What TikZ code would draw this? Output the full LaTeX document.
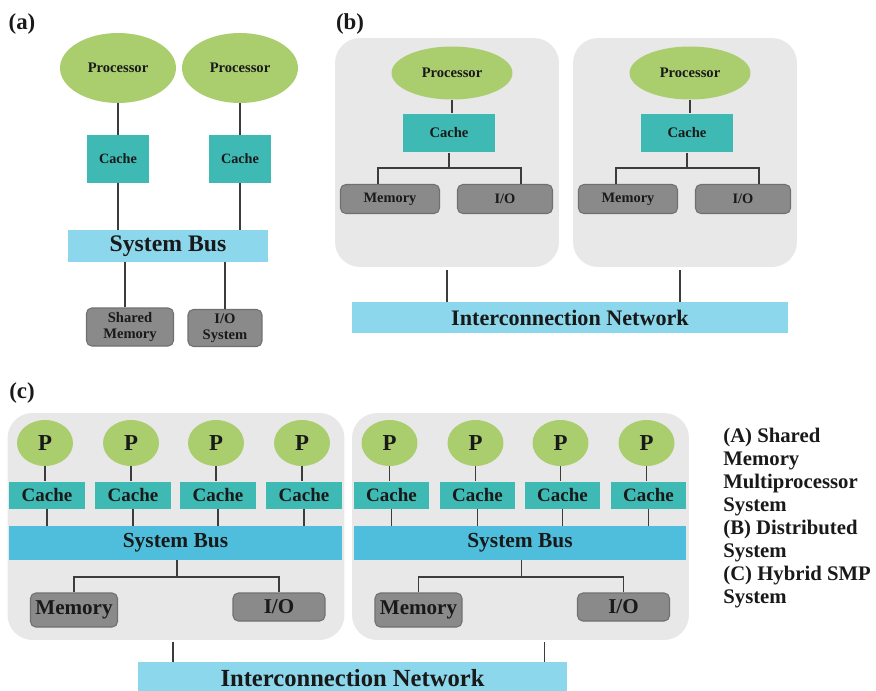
\documentclass[tikz,border=0pt]{standalone}
\usepackage{fontspec}
\usetikzlibrary{shapes.geometric}
\setmainfont{Liberation Serif}
\definecolor{ProcGreen}{RGB}{170,205,110}
\definecolor{CacheTeal}{RGB}{62,185,180}
\definecolor{BusBlue}{RGB}{78,190,220}
\definecolor{NetBlue}{RGB}{140,215,235}
\definecolor{DevGray}{RGB}{138,138,138}
\definecolor{DevEdge}{RGB}{112,112,112}
\definecolor{NodeGray}{RGB}{232,232,232}
\definecolor{WireGray}{RGB}{60,60,60}
\definecolor{TextDark}{RGB}{25,25,25}

\tikzset{
  proc/.style={ellipse, fill=ProcGreen, inner sep=0pt, text=TextDark},
  cachebox/.style={rectangle, fill=CacheTeal, inner sep=0pt, text=TextDark},
  busbar/.style={rectangle, inner sep=0pt, text=TextDark},
  devbox/.style={rectangle, rounded corners=3pt, fill=DevGray, draw=DevEdge, line width=0.6pt, inner sep=0pt, align=center, text=TextDark},
  nodebox/.style={rectangle, rounded corners=0.5cm, fill=NodeGray, inner sep=0pt},
  wire/.style={WireGray, line width=0.9pt},
  panel/.style={font=\bfseries\fontsize{13}{15}\selectfont, text=TextDark, inner sep=0pt},
}

\begin{document}
\begin{tikzpicture}[x=0.02cm, y=-0.02cm]

\useasboundingbox (0,0) rectangle (876,690);

% ============================================================
% PANEL (a): shared memory multiprocessor
% ============================================================

\node[panel] (labA) at (22,24) {(a)};

% Processors and caches
\foreach \i/\x in {1/118,2/240}{%
  \node[proc, minimum width=2.32cm, minimum height=1.4cm, font=\bfseries\fontsize{8.3}{9}\selectfont] (procA\i) at (\x,68) {Processor};
  \node[cachebox, minimum width=1.24cm, minimum height=0.96cm, font=\bfseries\fontsize{8.1}{9}\selectfont] (cacheA\i) at (\x,159) {Cache};
  \draw[wire] (procA\i) -- (cacheA\i);
}

% System bus
\node[busbar, fill=NetBlue, minimum width=4.0cm, minimum height=0.64cm, font=\bfseries\fontsize{13.5}{15}\selectfont] (busA) at (168,246) {System Bus};
\foreach \i in {1,2}{%
  \draw[wire] (cacheA\i.south) -- (cacheA\i.south |- busA.north);
}

% Shared memory and I/O
\node[devbox, minimum width=1.74cm, minimum height=0.76cm, font=\bfseries\fontsize{8.3}{9.4}\selectfont] (memA) at (130,327) {Shared\\Memory};
\node[devbox, minimum width=1.48cm, minimum height=0.74cm, font=\bfseries\fontsize{8.3}{9.4}\selectfont] (ioA) at (225,328) {I/O\\System};
\draw[wire] ([xshift=-0.1cm]memA.north) -- ([xshift=-0.1cm]memA.north |- busA.south);
\draw[wire] (ioA.north) -- (ioA.north |- busA.south);

% ============================================================
% PANEL (b): distributed system
% ============================================================

\node[panel] (labB) at (350,24) {(b)};

\foreach \i/\cx in {1/447,2/685}{%
  % node box
  \node[nodebox, minimum width=4.48cm, minimum height=4.58cm] (nodeB\i) at (\cx,152.5) {};
  \node[proc, minimum width=2.42cm, minimum height=1.06cm, font=\bfseries\fontsize{8.3}{9}\selectfont] (procB\i) at ({\cx+5},73) {Processor};
  \node[cachebox, minimum width=1.84cm, minimum height=0.78cm, font=\bfseries\fontsize{8.3}{9}\selectfont] (cacheB\i) at ({\cx+2},133) {Cache};
  \coordinate (jB\i) at ({\cx+2},168);
  \node[devbox, minimum width=1.98cm, minimum height=0.58cm, font=\bfseries\fontsize{8.2}{9}\selectfont] (memB\i) at ({\cx-57},199) {Memory};
  \node[devbox, minimum width=1.9cm, minimum height=0.58cm, font=\bfseries\fontsize{8.2}{9}\selectfont] (ioB\i) at ({\cx+58},199) {I/O};
  \draw[wire] (procB\i) -- (procB\i |- cacheB\i.north);
  \draw[wire] (cacheB\i.south) -- (jB\i);
  \draw[wire] ([xshift=-0.24cm]memB\i.north) |- (jB\i) -| ([xshift=0.32cm]ioB\i.north);
}

% Interconnection network
\node[busbar, fill=NetBlue, minimum width=8.72cm, minimum height=0.62cm, font=\bfseries\fontsize{12.6}{14}\selectfont] (netB) at (570,317.5) {Interconnection Network};
\draw[wire] ([yshift=-0.06cm]nodeB1.south) -- (nodeB1.south |- netB.north);
\draw[wire] ([xshift=-0.1cm,yshift=-0.06cm]nodeB2.south) -- ([xshift=-0.1cm]nodeB2.south |- netB.north);

% ============================================================
% PANEL (c): hybrid SMP system
% ============================================================

\node[panel] (labC) at (22,393) {(c)};

\foreach \k/\ox in {1/0,2/344.5}{%
  % node box
  \node[nodebox, minimum width=6.74cm, minimum height=4.54cm] (nodeC\k) at ({176+\ox},526.5) {};
  \node[busbar, fill=BusBlue, minimum width=6.66cm, minimum height=0.68cm, font=\bfseries\fontsize{12.2}{14}\selectfont] (busC\k) at ({175.5+\ox},543) {System Bus};
  % four processors with caches
  \foreach \j/\px in {1/45,2/131,3/216,4/302}{%
    \node[proc, minimum width=1.12cm, minimum height=0.92cm, font=\bfseries\fontsize{13}{15}\selectfont] (pC\k\j) at ({\px+\ox},443) {P};
    \node[cachebox, minimum width=1.52cm, minimum height=0.54cm, font=\bfseries\fontsize{10.8}{12}\selectfont] (cacheC\k\j) at ({\px+2+\ox},495) {Cache};
    \draw[wire] (pC\k\j) -- (pC\k\j |- cacheC\k\j.north);
    \draw[wire] (cacheC\k\j.south) -- (cacheC\k\j.south |- busC\k.north);
  }
  % memory and I/O
  \coordinate (jC\k) at ({177+\ox},577);
  \node[devbox, minimum width=1.74cm, minimum height=0.68cm, font=\bfseries\fontsize{12}{14}\selectfont] (memC\k) at ({74+\ox},610) {Memory};
  \node[devbox, minimum width=1.84cm, minimum height=0.56cm, font=\bfseries\fontsize{12}{14}\selectfont] (ioC\k) at ({279+\ox},607) {I/O};
  \draw[wire] (busC\k.south -| jC\k) -- (jC\k);
  \draw[wire] (memC\k.north) |- (jC\k) -| (ioC\k.north);
}

% Interconnection network
\node[busbar, fill=NetBlue, minimum width=8.58cm, minimum height=0.64cm, font=\bfseries\fontsize{14}{16}\selectfont] (netC) at (352.5,678) {Interconnection Network};
\draw[wire] ([xshift=-0.06cm,yshift=-0.04cm]nodeC1.south) -- ([xshift=-0.06cm]nodeC1.south |- netC.north);
\draw[wire] ([xshift=0.48cm,yshift=-0.04cm]nodeC2.south) -- ([xshift=0.48cm]nodeC2.south |- netC.north);

% Legend
\node[anchor=north west, align=left, inner sep=0pt, text=TextDark, font=\bfseries\fontsize{11.8}{13.1}\selectfont] (legend) at (723,428) {(A) Shared\\Memory\\Multiprocessor\\System\\(B) Distributed\\System\\(C) Hybrid SMP\\System};

\end{tikzpicture}
\end{document}
